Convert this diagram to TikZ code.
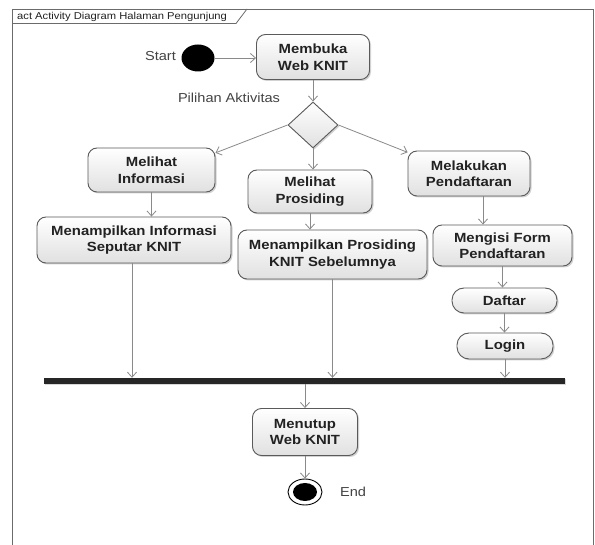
\documentclass[tikz,border=0pt]{standalone}
\usepackage{fontspec}
\setmainfont{Liberation Sans}[FakeStretch=1.12]
\usetikzlibrary{arrows.meta,shapes.geometric,shadows,calc}
\definecolor{linec}{HTML}{8A8A8A}
\definecolor{boxc}{HTML}{5A5A5A}
\definecolor{txtc}{HTML}{222222}
\begin{document}
\begin{tikzpicture}[x=1pt,y=-1pt,
  act/.style={draw=boxc, line width=0.9pt, rounded corners=9pt, top color=white, bottom color=black!12,
    drop shadow={shadow xshift=1.5pt,shadow yshift=-1.5pt,opacity=0.35},
    align=center, font=\fontsize{13.3}{16.5}\selectfont\bfseries, text=txtc, inner sep=0pt},
  pill/.style={act, rounded corners=12pt},
  flow/.style={draw=linec, line width=0.8pt, -{Straight Barb[length=5pt,width=9pt]}},
  lbl/.style={font=\fontsize{13}{15}\selectfont, text=txtc!85, inner sep=0pt}
]
\useasboundingbox (0,0) rectangle (595,545);
\fill[white] (0,0) rectangle (595,545);
% frame
\draw[boxc!90, line width=0.8pt] (12.5,548) -- (12.5,9) -- (593.5,9) -- (593.5,548);
\draw[boxc!90, line width=0.8pt] (12.5,23.5) -- (236,23.5) -- (247,9);
\node[font=\fontsize{10}{12}\selectfont, text=txtc, anchor=west, inner sep=0pt] (tab) at (17,16.5) {act Activity Diagram Halaman Pengunjung};

% start
\node[ellipse, fill=black, minimum width=33pt, minimum height=27pt, inner sep=0pt] (st) at (198,58) {};
\node[lbl] (stl) at (160.5,56) {Start};

\node[act, minimum width=113pt, minimum height=45pt] (mb) at (313,57) {Membuka\\Web KNIT};
\node[lbl] (pil) at (229,98) {Pilihan Aktivitas};
\node[diamond, draw=boxc, line width=0.9pt, top color=white, bottom color=black!12,
  drop shadow={shadow xshift=1.5pt,shadow yshift=-1.5pt,opacity=0.35},
  minimum width=50pt, minimum height=46pt, inner sep=0pt] (dm) at (313,125) {};

\node[act, minimum width=127pt, minimum height=44pt] (mi) at (151.5,170) {Melihat\\Informasi};
\node[act, minimum width=124pt, minimum height=43pt] (mpr) at (310,191.5) {Melihat\\Prosiding};
\node[act, minimum width=122pt, minimum height=45pt] (mpd) at (469,173.5) {Melakukan\\Pendaftaran};

\node[act, minimum width=194pt, minimum height=46pt] (mni) at (134,240) {Menampilkan Informasi\\Seputar KNIT};
\node[act, minimum width=189pt, minimum height=49pt] (mnp) at (332.5,254.5) {Menampilkan Prosiding\\KNIT Sebelumnya};
\node[act, minimum width=139pt, minimum height=41pt] (mf) at (502.5,245.5) {Mengisi Form\\Pendaftaran};
\node[pill, minimum width=105pt, minimum height=25pt] (df) at (504.5,300.5) {Daftar};
\node[pill, minimum width=96pt, minimum height=26pt] (lg) at (505,346) {Login};

\node[fill=black!85, minimum width=521pt, minimum height=6pt, inner sep=0pt,
  drop shadow={shadow xshift=1pt,shadow yshift=-1pt,opacity=0.3}] (bar) at (304.5,381) {};

\node[act, minimum width=105pt, minimum height=47pt] (mt) at (305,432) {Menutup\\Web KNIT};

\node[ellipse, draw=black, line width=0.9pt, fill=white, minimum width=34pt, minimum height=26pt, inner sep=0pt] (en) at (305,492) {};
\node[ellipse, fill=black, minimum width=24pt, minimum height=18pt, inner sep=0pt] (eni) at (en) {};
\node[lbl] (enl) at (353,492) {End};

% offset start points
\coordinate (mpdo) at ($(mpd.south)+(14,0)$);
\coordinate (mnio) at ($(mni.south)+(-2,0)$);

% flows
\draw[flow] (st.east) -- (st.east -| mb.west);
\draw[flow] (mb.south) -- (dm.north);
\draw[flow] (dm.west) -- (mi.15);
\draw[flow] (dm.south) -- (dm.south |- mpr.north);
\draw[flow] (dm.east) -- (mpd.161);
\draw[flow] (mi.south) -- (mi.south |- mni.north);
\draw[flow] (mpr.south) -- (mpr.south |- mnp.north);
\draw[flow] (mpdo) -- (mpdo |- mf.north);
\draw[flow] (mf.south) -- (mf.south |- df.north);
\draw[flow] (df.south) -- (df.south |- lg.north);
\draw[flow] (mnio) -- (mnio |- bar.north);
\draw[flow] (mnp.south) -- (mnp.south |- bar.north);
\draw[flow] (lg.south) -- (lg.south |- bar.north);
\draw[flow] (bar.south -| mt.north) -- (mt.north);
\draw[flow] (mt.south) -- (en.north);
\end{tikzpicture}
\end{document}
